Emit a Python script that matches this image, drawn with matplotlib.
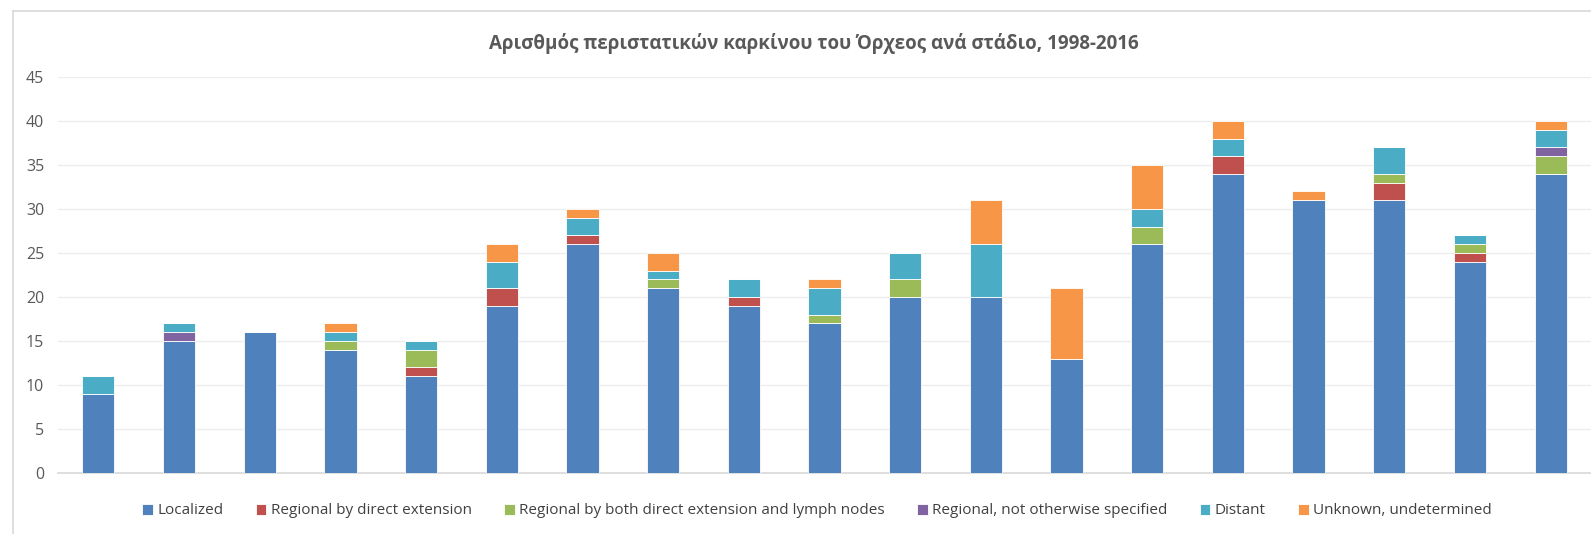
import matplotlib
matplotlib.use("Agg")
import matplotlib.pyplot as plt
import numpy as np

years = [str(y) for y in range(1998, 2017)]
localized = [9, 15, 16, 14, 11, 19, 26, 21, 19, 17, 20, 20, 13, 26, 34, 31, 31, 24, 34]
regional_direct = [0, 0, 0, 0, 1, 2, 1, 0, 1, 0, 0, 0, 0, 0, 2, 0, 2, 1, 0]
regional_both = [0, 0, 0, 1, 2, 0, 0, 1, 0, 1, 2, 0, 0, 2, 0, 0, 1, 1, 2]
regional_nos = [0, 1, 0, 0, 0, 0, 0, 0, 0, 0, 0, 0, 0, 0, 0, 0, 0, 0, 1]
distant = [2, 1, 0, 1, 1, 3, 2, 1, 2, 3, 3, 6, 0, 2, 2, 0, 3, 1, 2]
unknown = [0, 0, 0, 1, 0, 2, 1, 2, 0, 1, 0, 5, 8, 5, 2, 1, 0, 0, 1]

series = [
    ("Localized", localized, "#4F81BD"),
    ("Regional by direct extension", regional_direct, "#C0504D"),
    ("Regional by both direct extension and lymph nodes", regional_both, "#9BBB59"),
    ("Regional, not otherwise specified", regional_nos, "#8064A2"),
    ("Distant", distant, "#4BACC6"),
    ("Unknown, undetermined", unknown, "#F79646"),
]

plt.rcParams['font.family'] = ['Open Sans', 'DejaVu Sans']

W, H = 1591, 534
fig = plt.figure(figsize=(W / 100, H / 100), dpi=100)
ax = fig.add_axes([58 / W, 1 - 473 / H, 1 - 58 / W, (473 - 77) / H])

x = np.arange(len(years))
bottom = np.zeros(len(years))
handles = []
for name, vals, col in series:
    v = np.array(vals, dtype=float)
    b = ax.bar(x, v, 0.4, bottom=bottom, color=col, edgecolor="white",
               linewidth=0.6, label=name, zorder=3)
    handles.append(b)
    bottom += v

ax.set_xlim(-0.5, len(years) - 0.5)
ax.set_ylim(0, 45)
ax.set_yticks(range(0, 46, 5))
ax.set_xticks([])
ax.grid(axis="y", color="#EDEDED", linewidth=1.0, zorder=0)
for s in ["top", "right", "left"]:
    ax.spines[s].set_visible(False)
ax.spines["bottom"].set_color("#D9D9D9")
ax.spines["bottom"].set_linewidth(1.2)
ax.tick_params(axis="y", length=0, pad=10, labelsize=11.5, labelcolor="#595959")

fig.text(814 / W, 1 - 43 / H,
         "Αρισθμός περιστατικών καρκίνου του Όρχεος ανά στάδιο, 1998-2016",
         ha="center", va="center", fontsize=13.5, fontweight="bold", color="#595959")

fig.legend(handles=handles, loc="center", bbox_to_anchor=(817 / W, 1 - 511 / H),
           ncol=6, frameon=False, fontsize=11, handlelength=0.7, handleheight=0.7,
           handletextpad=0.3, columnspacing=2.1, labelcolor="#404040")

# chart frame (cropped on right and bottom)
fig.add_artist(plt.Line2D([13 / W, 13 / W], [0, 1 - 11 / H], color="#D9D9D9",
                          linewidth=1.2, transform=fig.transFigure))
fig.add_artist(plt.Line2D([13 / W, 1], [1 - 11 / H, 1 - 11 / H], color="#D9D9D9",
                          linewidth=1.2, transform=fig.transFigure))

fig.savefig("out.png", dpi=100, facecolor="white")
